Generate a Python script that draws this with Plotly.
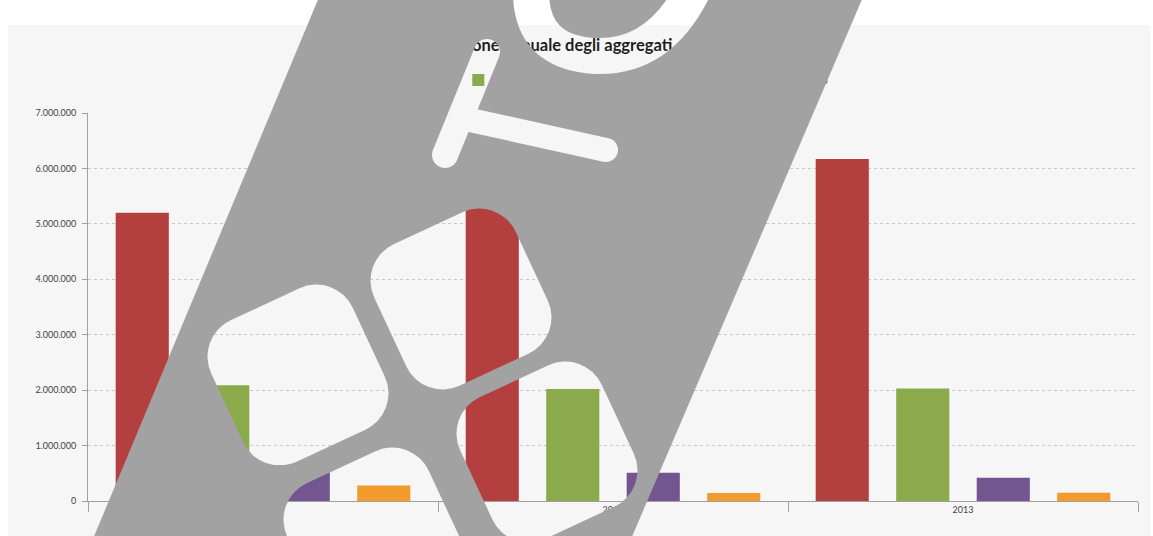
import base64
import plotly.graph_objects as go

# Annual aggregates, values in euro
anni = ["2011", "2012", "2013"]
serie = ["Valore della produzione", "Valore aggiunto", "Margine operativo lordo", "Risultato netto"]
valore_produzione = [5200000, 5600000, 6170000]
valore_aggiunto = [2090000, 2020000, 2030000]
margine_operativo = [640000, 510000, 420000]
risultato_netto = [280000, 145000, 150000]
colori = ["#B3403E", "#8AAA4B", "#735690", "#F39A2C"]

valori = [valore_produzione, valore_aggiunto, margine_operativo, risultato_netto]

W, H = 1153, 536
ML, MR, MT, MB = 88, 15, 113, 35
PW, PH = W - ML - MR, H - MT - MB


def px(x):
    return (x - ML) / PW


def py(y):
    return (H - MB - y) / PH


# --- logo watermark (page pixel units): gray band with cut-out glyphs ---
def logo_svg():
    ang = -25.0
    side, rad = 156, 40
    windows = [(298, 375), (461, 299), (547, 452), (374, 538)]
    holes = []
    for cx, cy in windows:
        holes.append(
            f'<rect x="{cx - side / 2:.1f}" y="{cy - side / 2:.1f}" width="{side}" height="{side}" '
            f'rx="{rad}" ry="{rad}" fill="black" transform="rotate({ang} {cx} {cy})"/>'
        )
    holes.append('<line x1="445" y1="155" x2="487" y2="52" stroke="black" stroke-width="26" stroke-linecap="round"/>')
    holes.append('<line x1="470" y1="120" x2="606" y2="150" stroke="black" stroke-width="24" stroke-linecap="round"/>')
    holes.append('<path d="M 531,-8 Q 531,53 596,56 Q 658,58 692,-8" fill="none" stroke="black" stroke-width="36"/>')
    band = "322,-10 866,-10 628,546 90,546"
    svg = (
        f'<svg xmlns="http://www.w3.org/2000/svg" width="{W}" height="{H}" viewBox="0 0 {W} {H}" '
        f'preserveAspectRatio="none"><defs><mask id="m" maskUnits="userSpaceOnUse" x="0" y="0" '
        f'width="{W}" height="{H}"><rect x="0" y="0" width="{W}" height="{H}" fill="white"/>'
        + "".join(holes)
        + f'</mask></defs><polygon points="{band}" fill="#A2A2A2" mask="url(#m)"/></svg>'
    )
    return "data:image/svg+xml;base64," + base64.b64encode(svg.encode()).decode()


fig = go.Figure()
for nome, v, col in zip(serie, valori, colori):
    fig.add_trace(go.Bar(x=anni, y=v, name=nome, marker=dict(color=col, line=dict(width=0))))

fig.update_layout(
    width=W, height=H,
    margin=dict(l=ML, r=MR, t=MT, b=MB, pad=0),
    paper_bgcolor="#FFFFFF",
    plot_bgcolor="rgba(0,0,0,0)",
    separators=",.",
    font=dict(family="Lato, 'Open Sans', sans-serif", color="#444444", size=9),
    barmode="group",
    bargap=0.08,
    bargroupgap=0.34,
    showlegend=True,
    title=dict(
        text="<b>Evoluzione annuale degli aggregati</b>",
        x=546 / W, xanchor="center", xref="container",
        y=1 - 45 / H, yanchor="middle", yref="container",
        font=dict(size=16.5, color="#1E1E1E"),
    ),
    legend=dict(
        orientation="h", x=px(572), xanchor="center", y=py(80), yanchor="middle",
        font=dict(size=10, color="#333333"), itemsizing="constant",
        bgcolor="rgba(0,0,0,0)",
    ),
    xaxis=dict(
        type="category", showline=True, linecolor="#A0A0A0", linewidth=1,
        ticks="outside", tickson="boundaries", ticklen=10, tickcolor="#A0A0A0",
        showgrid=False, tickfont=dict(size=9, color="#444444"),
    ),
    yaxis=dict(
        range=[0, 7000000], dtick=1000000, tickformat=",d",
        showline=True, linecolor="#A0A0A0", linewidth=1,
        ticks="outside", ticklen=5, tickcolor="#A0A0A0", ticklabelstandoff=4,
        showgrid=True, gridcolor="#C8C8C8", griddash="dot", gridwidth=1,
        zeroline=False, tickfont=dict(size=9, color="#444444"),
    ),
    shapes=[
        dict(type="rect", xref="paper", yref="paper", layer="below",
             x0=px(8), x1=px(1150), y0=py(536), y1=py(25),
             fillcolor="#F6F6F6", line=dict(width=0)),
    ],
    images=[
        dict(source=logo_svg(), xref="paper", yref="paper",
             x=px(0), y=py(0), sizex=W / PW, sizey=H / PH,
             xanchor="left", yanchor="top", sizing="stretch", layer="above", opacity=1),
    ],
)

# keep the watermark layer on top of title and legend as well
raise_logo = """
var gd = document.getElementById('{plot_id}');
var above = gd.querySelector('.main-svg .layer-above');
if (above) { above.parentNode.appendChild(above); }
"""

fig.write_html("out.html", post_script=raise_logo)
